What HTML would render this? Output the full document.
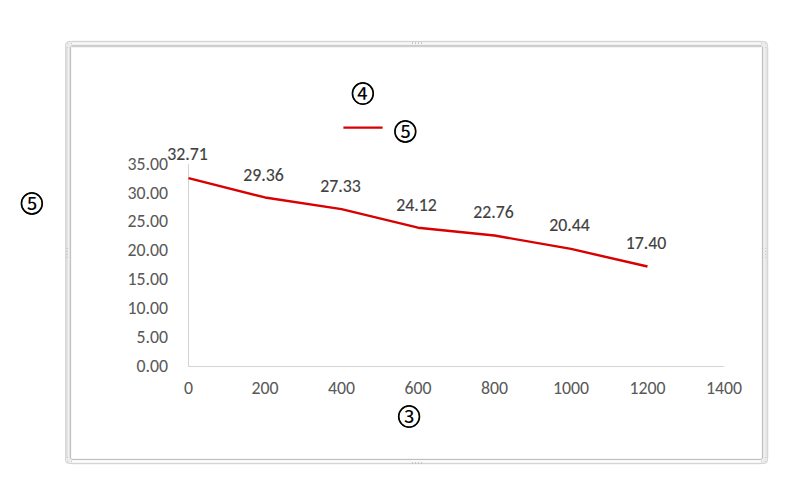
<!DOCTYPE html>
<html><head><meta charset="utf-8"><style>
html,body{margin:0;padding:0;background:#fff;width:800px;height:500px;overflow:hidden}
svg{position:absolute;left:0;top:0}
.a{font-size:17.8px;fill:#595959;stroke:#595959;stroke-width:0.05;font-family:Carlito,'Liberation Sans',sans-serif}
.d{font-size:17.8px;fill:#404040;stroke:#404040;stroke-width:0.15;font-family:Carlito,'Liberation Sans',sans-serif}
.c{font-size:22.6px;fill:#000;stroke:#000;stroke-width:0.1;font-family:'Noto Sans CJK JP','WenQuanYi Zen Hei',sans-serif}
</style></head><body>
<svg width="800" height="500" viewBox="0 0 800 500">
<rect x="65.5" y="41.5" width="702" height="422" rx="3.5" ry="3.5" fill="#ececec" stroke="#d6d6d6"/>
<rect x="70.5" y="45.5" width="692" height="414" rx="2.5" ry="2.5" fill="#fff" stroke="#c4c4c4"/>
<g shape-rendering="crispEdges">
<rect x="65" y="47" width="1" height="411" fill="#d8d8d8"/>
<rect x="66" y="47" width="1" height="411" fill="#dcdcdc"/>
<rect x="67" y="47" width="1" height="411" fill="#e6e6e6"/>
<rect x="68" y="47" width="1" height="411" fill="#f0f0f0"/>
<rect x="69" y="47" width="1" height="411" fill="#e2e2e2"/>
<rect x="70" y="47" width="1" height="411" fill="#c2c2c2"/>
<rect x="71" y="47" width="1" height="411" fill="#f8f8f8"/>
<rect x="761" y="47" width="1" height="411" fill="#f8f8f8"/>
<rect x="762" y="47" width="1" height="411" fill="#c0c0c0"/>
<rect x="763" y="47" width="1" height="411" fill="#e8e8e8"/>
<rect x="764" y="47" width="1" height="411" fill="#f0f0f0"/>
<rect x="765" y="47" width="1" height="411" fill="#eaeaea"/>
<rect x="766" y="47" width="1" height="411" fill="#e2e2e2"/>
<rect x="767" y="47" width="1" height="411" fill="#d8d8d8"/>
<rect x="768" y="47" width="1" height="411" fill="#f4f4f4"/>
<rect x="72" y="40" width="689" height="1" fill="#f8f8f8"/>
<rect x="72" y="41" width="689" height="1" fill="#d4d4d4"/>
<rect x="72" y="42" width="689" height="1" fill="#f2f2f2"/>
<rect x="72" y="43" width="689" height="1" fill="#f7f7f7"/>
<rect x="72" y="44" width="689" height="1" fill="#f0f0f0"/>
<rect x="72" y="45" width="689" height="1" fill="#cccccc"/>
<rect x="72" y="46" width="689" height="1" fill="#cfcfcf"/>
<rect x="72" y="47" width="689" height="1" fill="#f4f4f4"/>
<rect x="72" y="458" width="689" height="1" fill="#f6f6f6"/>
<rect x="72" y="459" width="689" height="1" fill="#bebebe"/>
<rect x="72" y="460" width="689" height="1" fill="#f8f8f8"/>
<rect x="72" y="461" width="689" height="1" fill="#fafafa"/>
<rect x="72" y="462" width="689" height="1" fill="#f6f6f6"/>
<rect x="72" y="463" width="689" height="1" fill="#d4d4d4"/>
<rect x="72" y="464" width="689" height="1" fill="#f6f6f6"/>
<rect x="412" y="42" width="1" height="2" fill="#c8c8c8"/>
<rect x="412" y="462" width="1" height="2" fill="#c4c4c4"/>
<rect x="415" y="42" width="1" height="2" fill="#c8c8c8"/>
<rect x="415" y="462" width="1" height="2" fill="#c4c4c4"/>
<rect x="418" y="42" width="1" height="2" fill="#c8c8c8"/>
<rect x="418" y="462" width="1" height="2" fill="#c4c4c4"/>
<rect x="421" y="42" width="1" height="2" fill="#c8c8c8"/>
<rect x="421" y="462" width="1" height="2" fill="#c4c4c4"/>
<rect x="66" y="248" width="2" height="1" fill="#cacaca"/>
<rect x="765" y="248" width="1" height="1" fill="#cacaca"/>
<rect x="762" y="248" width="1" height="1" fill="#b8b8b8"/>
<rect x="66" y="251" width="2" height="1" fill="#cacaca"/>
<rect x="765" y="251" width="1" height="1" fill="#cacaca"/>
<rect x="762" y="251" width="1" height="1" fill="#b8b8b8"/>
<rect x="66" y="254" width="2" height="1" fill="#cacaca"/>
<rect x="765" y="254" width="1" height="1" fill="#cacaca"/>
<rect x="762" y="254" width="1" height="1" fill="#b8b8b8"/>
<rect x="66" y="257" width="2" height="1" fill="#cacaca"/>
<rect x="765" y="257" width="1" height="1" fill="#cacaca"/>
<rect x="762" y="257" width="1" height="1" fill="#b8b8b8"/>
<rect x="67" y="43" width="1" height="1" fill="#cdcdcd"/>
<rect x="71" y="43" width="1" height="1" fill="#cdcdcd"/>
<rect x="67" y="47" width="1" height="1" fill="#cdcdcd"/>
<rect x="761" y="43" width="1" height="1" fill="#cdcdcd"/>
<rect x="765" y="43" width="1" height="1" fill="#cdcdcd"/>
<rect x="765" y="47" width="1" height="1" fill="#cdcdcd"/>
<rect x="67" y="461" width="1" height="1" fill="#cdcdcd"/>
<rect x="71" y="461" width="1" height="1" fill="#cdcdcd"/>
<rect x="67" y="457" width="1" height="1" fill="#cdcdcd"/>
<rect x="761" y="461" width="1" height="1" fill="#cdcdcd"/>
<rect x="765" y="461" width="1" height="1" fill="#cdcdcd"/>
<rect x="765" y="457" width="1" height="1" fill="#cdcdcd"/>
</g>

<line x1="188.5" y1="164" x2="188.5" y2="367" stroke="#d4d4d4" stroke-width="1"/>
<line x1="188" y1="366.5" x2="724" y2="366.5" stroke="#d4d4d4" stroke-width="1"/>
<polyline points="188.50,178.12 265.00,197.45 341.50,209.17 418.00,227.69 494.50,235.54 571.00,248.93 647.50,266.48" fill="none" stroke="#d80000" stroke-width="2.4" stroke-linecap="butt" stroke-linejoin="round"/>
<line x1="343.4" y1="127.6" x2="382.6" y2="127.6" stroke="#d80000" stroke-width="2.2"/>
<text x="168" y="371.7" text-anchor="end" class="a" textLength="31.531" lengthAdjust="spacingAndGlyphs">0.00</text>
<text x="168" y="342.8" text-anchor="end" class="a" textLength="31.531" lengthAdjust="spacingAndGlyphs">5.00</text>
<text x="168" y="314.0" text-anchor="end" class="a" textLength="40.547" lengthAdjust="spacingAndGlyphs">10.00</text>
<text x="168" y="285.1" text-anchor="end" class="a" textLength="40.547" lengthAdjust="spacingAndGlyphs">15.00</text>
<text x="168" y="256.3" text-anchor="end" class="a" textLength="40.547" lengthAdjust="spacingAndGlyphs">20.00</text>
<text x="168" y="227.4" text-anchor="end" class="a" textLength="40.547" lengthAdjust="spacingAndGlyphs">25.00</text>
<text x="168" y="198.6" text-anchor="end" class="a" textLength="40.547" lengthAdjust="spacingAndGlyphs">30.00</text>
<text x="168" y="169.7" text-anchor="end" class="a" textLength="40.547" lengthAdjust="spacingAndGlyphs">35.00</text>
<text x="188.5" y="393.8" text-anchor="middle" class="a" textLength="9.016" lengthAdjust="spacingAndGlyphs">0</text>
<text x="265.0" y="393.8" text-anchor="middle" class="a" textLength="27.047" lengthAdjust="spacingAndGlyphs">200</text>
<text x="341.5" y="393.8" text-anchor="middle" class="a" textLength="27.047" lengthAdjust="spacingAndGlyphs">400</text>
<text x="418.0" y="393.8" text-anchor="middle" class="a" textLength="27.047" lengthAdjust="spacingAndGlyphs">600</text>
<text x="494.5" y="393.8" text-anchor="middle" class="a" textLength="27.047" lengthAdjust="spacingAndGlyphs">800</text>
<text x="571.0" y="393.8" text-anchor="middle" class="a" textLength="36.062" lengthAdjust="spacingAndGlyphs">1000</text>
<text x="647.5" y="393.8" text-anchor="middle" class="a" textLength="36.062" lengthAdjust="spacingAndGlyphs">1200</text>
<text x="724.0" y="393.8" text-anchor="middle" class="a" textLength="36.062" lengthAdjust="spacingAndGlyphs">1400</text>
<text x="187.5" y="160.2" text-anchor="middle" class="d" textLength="40.547" lengthAdjust="spacingAndGlyphs">32.71</text>
<text x="263.5" y="180.8" text-anchor="middle" class="d" textLength="40.547" lengthAdjust="spacingAndGlyphs">29.36</text>
<text x="340.5" y="191.5" text-anchor="middle" class="d" textLength="40.547" lengthAdjust="spacingAndGlyphs">27.33</text>
<text x="416.5" y="210.8" text-anchor="middle" class="d" textLength="40.547" lengthAdjust="spacingAndGlyphs">24.12</text>
<text x="493.5" y="218.4" text-anchor="middle" class="d" textLength="40.547" lengthAdjust="spacingAndGlyphs">22.76</text>
<text x="569.5" y="231.3" text-anchor="middle" class="d" textLength="40.547" lengthAdjust="spacingAndGlyphs">20.44</text>
<text x="646.0" y="249.3" text-anchor="middle" class="d" textLength="40.547" lengthAdjust="spacingAndGlyphs">17.40</text>
<text x="362.7" y="102" text-anchor="middle" class="c">④</text>
<text x="405.2" y="140" text-anchor="middle" class="c">⑤</text>
<text x="31.7" y="212" text-anchor="middle" class="c">⑤</text>
<text x="409.0" y="425" text-anchor="middle" class="c">③</text>
<g fill="none" stroke="#000" stroke-width="1.5">
<circle cx="362.85" cy="93.54" r="10.45"/>
<circle cx="405.32" cy="131.5" r="10.45"/>
<circle cx="31.85" cy="203.5" r="10.45"/>
<circle cx="409.08" cy="416.56" r="10.45"/>
</g>
</svg>
</body></html>
